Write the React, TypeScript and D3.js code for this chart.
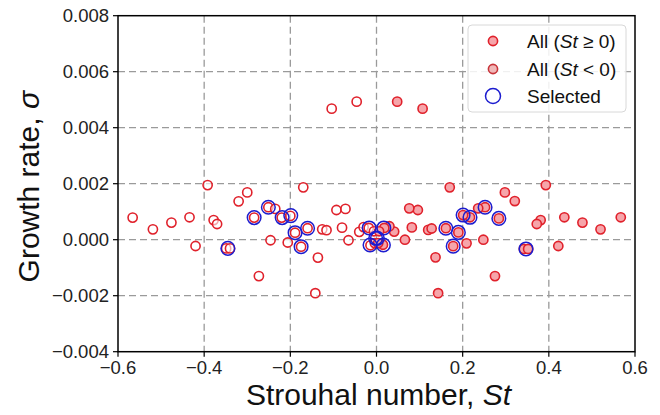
import React from "react";
import * as d3 from "d3";

// St < 0 (hollow markers)
const negSt = [-0.566, -0.519, -0.476, -0.434, -0.420, -0.392, -0.378, -0.370, -0.349, -0.340, -0.320, -0.300, -0.284, -0.273, -0.251, -0.246, -0.235, -0.220, -0.206, -0.200, -0.189, -0.175, -0.170, -0.160, -0.142, -0.136, -0.126, -0.116, -0.104, -0.093, -0.080, -0.072, -0.065, -0.046, -0.040, -0.030, -0.018, -0.014, -0.006, -0.004];
const negSigma = [0.00079, 0.00037, 0.00061, 0.0008, -0.000225, 0.00195, 0.0007, 0.00056, -0.00031, -0.00031, 0.00137, 0.00169, 0.00079, -0.0013, 0.00116, -0.00002, 0.0011, 0.00079, -0.0001, 0.00085, 0.00025, -0.00025, 0.00187, 0.00041, -0.00191, -0.00064, 0.00037, 0.00034, 0.00468, 0.00106, 0.00043, 0.0011, -0.00002, 0.00493, 0.00028, 0.00045, 0.00042, -0.0002, 0.0003, -0.00012];

// St >= 0 (filled markers)
const posSt = [0.567, 0.520, 0.478, 0.436, 0.422, 0.393, 0.381, 0.372, 0.342, 0.352, 0.321, 0.298, 0.284, 0.275, 0.252, 0.248, 0.236, 0.217, 0.209, 0.201, 0.190, 0.178, 0.170, 0.161, 0.143, 0.137, 0.120, 0.128, 0.107, 0.096, 0.082, 0.076, 0.066, 0.048, 0.041, 0.030, 0.018, 0.015, 0.006, 0.004];
const posSigma = [0.0008, 0.00037, 0.00061, 0.0008, -0.000225, 0.00195, 0.0007, 0.00056, -0.00033, -0.00033, 0.00138, 0.00169, 0.00076, -0.0013, 0.00116, 0.0, 0.00112, 0.0008, -0.00013, 0.00088, 0.00026, -0.00023, 0.00187, 0.00041, -0.00191, -0.00063, 0.00035, 0.0004, 0.00468, 0.00106, 0.00044, 0.00112, 0.0, 0.00493, 0.00029, 0.00048, 0.00042, -0.00018, 0.0003, -0.00012];

// Selected (blue rings)
const selSt = [-0.345, -0.284, -0.251, -0.219, -0.199, -0.189, -0.175, -0.160, -0.017, -0.015, -0.002, 0.002, 0.017, 0.016, 0.161, 0.178, 0.190, 0.201, 0.217, 0.252, 0.284, 0.347];
const selSigma = [-0.00031, 0.00079, 0.00116, 0.00079, 0.00086, 0.00025, -0.00025, 0.00041, 0.00042, -0.00019, 0.00005, 0.00005, 0.00042, -0.00019, 0.00041, -0.00023, 0.00026, 0.00088, 0.0008, 0.00116, 0.00076, -0.00033];

const xTicks = [-0.6, -0.4, -0.2, 0.0, 0.2, 0.4, 0.6];
const yTicks = [-0.004, -0.002, 0.0, 0.002, 0.004, 0.006, 0.008];
const legendLabels = ["All (", "All (", "Selected"];

const W = 660, H = 415;
const L = 118, R = 635, T = 15.7, B = 351.7;

export default function App() {
  const x = d3.scaleLinear().domain([-0.6, 0.6]).range([L, R]);
  const y = d3.scaleLinear().domain([-0.004, 0.008]).range([B, T]);
  const font = "'Liberation Sans', Arial, Helvetica, sans-serif";
  const red = "#e0212b";
  const pink = "#f6a5aa";
  const blue = "#1c1ccf";
  const grid = "#9a9a9a";
  const fmtY = (v: number) => (v < 0 ? "\u2212" : "") + Math.abs(v).toFixed(3);
  const fmtX = (v: number) => (v < 0 ? "\u2212" : "") + Math.abs(v).toFixed(1);

  return (
    <svg width={W} height={H} style={{ position: "absolute", left: 0, top: 0, background: "#fff" }} fontFamily={font}>
      <rect x={0} y={0} width={W} height={H} fill="#fff" />
      {/* grid */}
      {xTicks.slice(1, -1).map((t) => (
        <line key={"gx" + t} x1={x(t)} x2={x(t)} y1={T} y2={B} stroke={grid} strokeWidth={1.3} strokeDasharray="7,4" />
      ))}
      {yTicks.slice(1, -1).map((t) => (
        <line key={"gy" + t} x1={L} x2={R} y1={y(t)} y2={y(t)} stroke={grid} strokeWidth={1.3} strokeDasharray="7,4" />
      ))}
      {/* hollow St<0 */}
      {negSt.map((s, i) => (
        <circle key={"n" + i} cx={x(s)} cy={y(negSigma[i])} r={4.6} fill="#fff" fillOpacity={0.6} stroke={red} strokeWidth={1.6} />
      ))}
      {/* filled St>=0 */}
      {posSt.map((s, i) => (
        <circle key={"p" + i} cx={x(s)} cy={y(posSigma[i])} r={4.6} fill={pink} stroke={red} strokeWidth={1.6} />
      ))}
      {/* selected */}
      {selSt.map((s, i) => (
        <circle key={"s" + i} cx={x(s)} cy={y(selSigma[i])} r={6.8} fill="none" stroke={blue} strokeWidth={1.5} />
      ))}
      {/* frame */}
      <rect x={L} y={T} width={R - L} height={B - T} fill="none" stroke="#000" strokeWidth={1.5} />
      {/* ticks */}
      {xTicks.map((t) => (
        <g key={"xt" + t}>
          <line x1={x(t)} x2={x(t)} y1={B} y2={B + 5} stroke="#000" strokeWidth={1.2} />
          <text x={x(t)} y={373.5} textAnchor="middle" fontSize={18.5} fill="#222">{fmtX(t)}</text>
        </g>
      ))}
      {yTicks.map((t) => (
        <g key={"yt" + t}>
          <line x1={L - 5} x2={L} y1={y(t)} y2={y(t)} stroke="#000" strokeWidth={1.2} />
          <text x={L - 9} y={y(t) + 6.5} textAnchor="end" fontSize={18.5} fill="#222">{fmtY(t)}</text>
        </g>
      ))}
      {/* axis labels */}
      <text x={(L + R) / 2 + 2} y={405} textAnchor="middle" fontSize={30} fill="#111">
        Strouhal number, <tspan fontStyle="italic">St</tspan>
      </text>
      <text transform={`translate(39, ${(T + B) / 2 + 3}) rotate(-90)`} textAnchor="middle" fontSize={30} fill="#111">
        Growth rate, <tspan fontStyle="italic">σ</tspan>
      </text>
      {/* legend */}
      <g>
        <rect x={468} y={25} width={158} height={87} rx={4} fill="#fff" fillOpacity={0.85} stroke="#d8d8d8" strokeWidth={1} />
        <circle cx={493} cy={41} r={4.6} fill={pink} stroke={red} strokeWidth={1.6} />
        <circle cx={493} cy={69} r={4.6} fill="#f0b8b8" stroke="#c8343a" strokeWidth={1.6} />
        <circle cx={493} cy={96} r={7.5} fill="none" stroke={blue} strokeWidth={1.5} />
        <text x={527} y={47.5} fontSize={19} fill="#111">{legendLabels[0]}<tspan fontStyle="italic">St</tspan> ≥ 0)</text>
        <text x={527} y={75.5} fontSize={19} fill="#111">{legendLabels[1]}<tspan fontStyle="italic">St</tspan> {"<"} 0)</text>
        <text x={527} y={102.5} fontSize={19} fill="#111">{legendLabels[2]}</text>
      </g>
    </svg>
  );
}
